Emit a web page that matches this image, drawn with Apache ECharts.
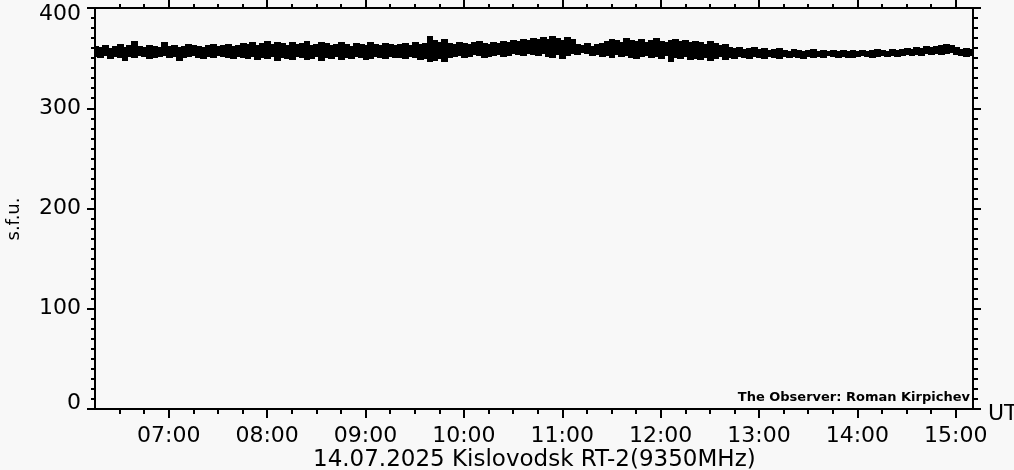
<!DOCTYPE html>
<html>
<head>
<meta charset="utf-8">
<script src="https://cdn.jsdelivr.net/npm/echarts@6/dist/echarts.min.js"></script>
<style>
html,body{margin:0;padding:0;background:#f8f8f8;}
#c{width:1014px;height:470px;}
</style>
</head>
<body>
<div id="c"></div>
<script>
// Time axis in minutes since 00:00 UT
const xMin = 375;      // 06:15
const xMax = 910.5;    // ~15:10
const startMin = 375;  // first sample 06:15
const stepMin = 3;     // sample spacing (minutes)

const hourTicks = [420, 480, 540, 600, 660, 720, 780, 840, 900];
const quarterTicks = [390, 405, 435, 450, 465, 495, 510, 525, 555, 570, 585, 615, 630, 645,
  675, 690, 705, 735, 750, 765, 795, 810, 825, 855, 870, 885];
const yTicks = [0, 100, 200, 300, 400];

// Upper envelope of flux (s.f.u.) for each 3-minute sample
const hi = [
  362,361,363,360,362,364,361,363,367,362,361,363,362,361,366,362,363,361,362,364,363,362,361,363,364,362,363,364,362,363,365,
  364,366,363,365,367,364,366,365,363,366,364,365,367,363,364,366,365,363,364,366,364,362,365,364,363,366,364,363,365,364,363,
  364,365,363,366,364,365,372,368,366,369,365,364,366,365,364,366,367,365,364,366,365,367,366,368,367,369,368,370,369,371,
  369,372,370,368,371,369,364,363,365,362,364,365,367,369,368,366,370,368,367,369,366,368,370,367,366,368,369,367,368,366,367,
  366,364,367,365,363,364,361,360,361,359,360,361,359,360,358,359,360,358,357,359,358,357,358,359,357,358,357,358,357,358,357,
  358,357,358,357,358,359,358,357,359,358,359,360,359,361,360,362,361,362,363,364,363,361,359,360,359
];
// Lower envelope of flux (s.f.u.)
const lo = [
  351,350,352,349,351,350,347,351,350,352,351,349,350,351,352,350,351,347,350,351,352,350,349,351,350,352,351,350,349,351,350,
  349,351,348,350,349,351,347,350,349,348,351,350,348,349,351,347,350,349,351,348,350,349,351,350,348,349,351,350,349,351,350,
  350,349,351,350,348,349,346,347,349,346,350,351,352,350,351,353,352,350,351,352,353,351,352,354,353,352,354,353,352,354,
  351,350,353,349,352,354,353,355,354,352,353,351,352,350,353,351,352,350,349,351,352,350,351,349,352,346,350,349,351,348,349,
  348,350,347,349,351,348,350,349,351,350,349,351,350,349,351,350,349,351,350,351,350,349,351,350,351,350,352,351,350,351,350,
  350,351,352,351,350,351,352,351,352,351,352,353,352,353,352,354,353,354,353,354,355,353,352,351,352
];

const band = hi.map((h, i) => [startMin + i * stepMin, lo[i], h]);

function fmt(v) {
  const h = Math.floor(v / 60), m = Math.round(v % 60);
  return String(h).padStart(2, '0') + ':' + String(m).padStart(2, '0');
}

const FONT = 'DejaVu Sans';
const axisLine = { show: true, lineStyle: { color: '#000', width: 2 } };

const chart = echarts.init(document.getElementById('c'), null, { renderer: 'canvas' });
chart.setOption({
  animation: false,
  backgroundColor: '#f8f8f8',
  grid: { left: 95, right: 41, top: 8, bottom: 61, containLabel: false },
  xAxis: [
    { type: 'value', position: 'bottom', min: xMin, max: xMax,
      axisLine: axisLine,
      axisTick: { show: true, customValues: hourTicks, length: 9, inside: false, lineStyle: { color: '#000', width: 2 } },
      axisLabel: { show: true, customValues: hourTicks, formatter: fmt, fontFamily: FONT, fontSize: 22, color: '#000', margin: 16 },
      splitLine: { show: false } },
    { type: 'value', position: 'bottom', min: xMin, max: xMax,
      axisLine: { show: false },
      axisTick: { show: true, customValues: quarterTicks, length: 5, lineStyle: { color: '#000', width: 2 } },
      axisLabel: { show: false }, splitLine: { show: false } },
    { type: 'value', position: 'top', min: xMin, max: xMax,
      axisLine: axisLine,
      axisTick: { show: true, customValues: hourTicks, length: 8, lineStyle: { color: '#000', width: 2 } },
      axisLabel: { show: false }, splitLine: { show: false } },
    { type: 'value', position: 'top', min: xMin, max: xMax,
      axisLine: { show: false },
      axisTick: { show: true, customValues: quarterTicks, length: 4, lineStyle: { color: '#000', width: 2 } },
      axisLabel: { show: false }, splitLine: { show: false } }
  ],
  yAxis: [
    { type: 'value', position: 'left', min: 0, max: 400, interval: 100,
      axisLine: axisLine,
      axisTick: { show: true, length: 8, lineStyle: { color: '#000', width: 2 } },
      minorTick: { show: true, splitNumber: 10, length: 4, lineStyle: { color: '#000', width: 2 } },
      axisLabel: { show: true, customValues: yTicks, fontFamily: FONT, fontSize: 22, color: '#000', margin: 14,
        lineHeight: 12, verticalAlignMinLabel: 'bottom', verticalAlignMaxLabel: 'top' },
      splitLine: { show: false } },
    { type: 'value', position: 'right', min: 0, max: 400, interval: 100,
      axisLine: axisLine,
      axisTick: { show: true, length: 8, lineStyle: { color: '#000', width: 2 } },
      minorTick: { show: true, splitNumber: 10, length: 5, lineStyle: { color: '#000', width: 2 } },
      axisLabel: { show: false }, splitLine: { show: false } }
  ],
  series: [{
    type: 'custom', xAxisIndex: 0, yAxisIndex: 0, data: band,
    encode: { x: 0, y: [1, 2] }, clip: true, silent: true,
    renderItem: function (params, api) {
      const t = api.value(0);
      const p1 = api.coord([t - stepMin / 2, api.value(2)]);
      const p2 = api.coord([t + stepMin / 2, api.value(1)]);
      const x0 = Math.floor(p1[0]);
      const x1 = Math.ceil(p2[0]) + 1;
      return { type: 'rect',
        shape: { x: x0, y: Math.round(p1[1]), width: x1 - x0, height: Math.round(p2[1]) - Math.round(p1[1]) },
        style: { fill: '#000', stroke: null } };
    }
  }],
  graphic: [
    { type: 'text', x: 14, y: 219, rotation: Math.PI / 2,
      style: { text: 's.f.u.', font: '18px "DejaVu Sans"', fill: '#000', textAlign: 'center', textVerticalAlign: 'middle' } },
    { type: 'text', left: 313, top: 449,
      style: { text: '14.07.2025 Kislovodsk RT-2(9350MHz)', font: '23px "DejaVu Sans"', fill: '#000' } },
    { type: 'text', left: 988, top: 403,
      style: { text: 'UT', font: '22px "DejaVu Sans"', fill: '#000' } },
    { type: 'text', right: 44, top: 391,
      style: { text: 'The Observer: Roman Kirpichev', font: 'bold 13px "DejaVu Sans"', fill: '#000' } }
  ]
});
</script>
</body>
</html>
